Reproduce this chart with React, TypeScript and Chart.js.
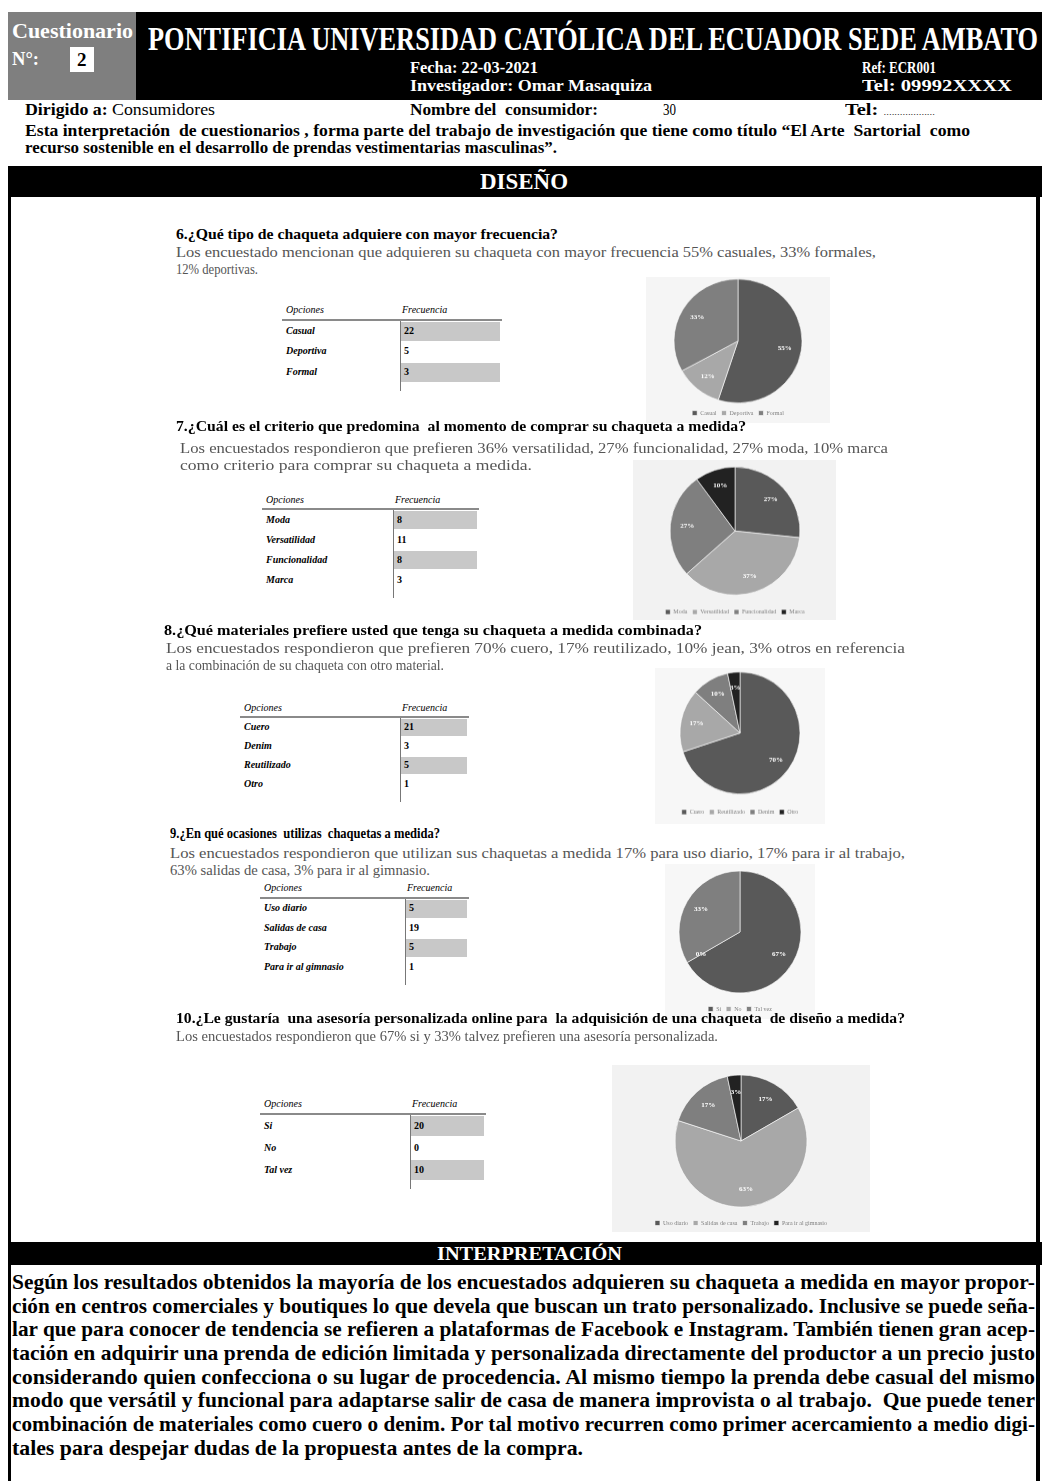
import React, { useEffect, useLayoutEffect, useRef } from 'react';
import { Chart, registerables } from 'chart.js';
Chart.register(...registerables);

// ---------- DATA ----------
const pie6Labels = ['Casual', 'Deportiva', 'Formal'];
const pie6Values = [55, 12, 33];
const pie7Labels = ['Moda', 'Versatilidad', 'Funcionalidad', 'Marca'];
const pie7Values = [8, 11, 8, 3];
const pie8Labels = ['Cuero', 'Reutilizado', 'Denim', 'Otro'];
const pie8Values = [21, 5, 3, 1];
const pie9Labels = ['Si', 'No', 'Tal vez'];
const pie9Values = [20, 0, 10];
const pie10Labels = ['Uso diario', 'Salidas de casa', 'Trabajo', 'Para ir al gimnasio'];
const pie10Values = [5, 19, 5, 1];

const table6Options = ['Casual', 'Deportiva', 'Formal'];
const table6Freq = ['22', '5', '3'];
const table7Options = ['Moda', 'Versatilidad', 'Funcionalidad', 'Marca'];
const table7Freq = ['8', '11', '8', '3'];
const table8Options = ['Cuero', 'Denim', 'Reutilizado', 'Otro'];
const table8Freq = ['21', '3', '5', '1'];
const table9Options = ['Uso diario', 'Salidas de casa', 'Trabajo', 'Para ir al gimnasio'];
const table9Freq = ['5', '19', '5', '1'];
const table10Options = ['Si', 'No', 'Tal vez'];
const table10Freq = ['20', '0', '10'];

const DARK = '#595959';
const LIGHT = '#a8a8a8';
const MID = '#7f7f7f';
const BLACK = '#222222';
const pie6Colors = [DARK, LIGHT, MID];
const pie7Colors = [DARK, LIGHT, MID, BLACK];
const pie8Colors = [DARK, LIGHT, MID, BLACK];
const pie9Colors = [DARK, LIGHT, MID];
const pie10Colors = [DARK, LIGHT, MID, BLACK];

const interpretationLines = [
  'Según los resultados obtenidos la mayoría de los encuestados adquieren su chaqueta a medida en mayor propor-',
  'ción en centros comerciales y boutiques lo que devela que buscan un trato personalizado. Inclusive se puede seña-',
  'lar que para conocer de tendencia se refieren a plataformas de Facebook e Instagram. También tienen gran acep-',
  'tación en adquirir una prenda de edición limitada y personalizada directamente del productor a un precio justo',
  'considerando quien confecciona o su lugar de procedencia. Al mismo tiempo la prenda debe casual del mismo',
  'modo que versátil y funcional para adaptarse salir de casa de manera improvista o al trabajo.  Que puede tener',
  'combinación de materiales como cuero o denim. Por tal motivo recurren como primer acercamiento a medio digi-',
  'tales para despejar dudas de la propuesta antes de la compra.',
];

const SERIF = '"Liberation Serif", "Times New Roman", serif';

// ---------- helpers ----------
type TP = {
  x: number; y: number; w?: number; size: number; bold?: boolean; italic?: boolean;
  color?: string; children: React.ReactNode;
};
function T({ x, y, w, size, bold, italic, color = '#000', children }: TP) {
  const ref = useRef<HTMLDivElement>(null);
  useLayoutEffect(() => {
    const el = ref.current;
    if (!el || !w) return;
    el.style.transform = 'none';
    const nat = el.getBoundingClientRect().width;
    if (nat > 0) el.style.transform = `scaleX(${w / nat})`;
  });
  return (
    <div
      ref={ref}
      style={{
        position: 'absolute', left: x, top: y - size * 0.55, fontFamily: SERIF, fontSize: size,
        lineHeight: 1, fontWeight: bold ? 700 : 400, fontStyle: italic ? 'italic' : 'normal',
        color, whiteSpace: 'pre', transformOrigin: '0 0',
      }}
    >
      {children}
    </div>
  );
}

function R({ x, y, w, h, bg }: { x: number; y: number; w: number; h: number; bg: string }) {
  return <div style={{ position: 'absolute', left: x, top: y, width: w, height: h, background: bg }} />;
}

const pctLabels = {
  id: 'pctLabels',
  afterDatasetsDraw(chart: any) {
    const ctx = chart.ctx;
    const meta = chart.getDatasetMeta(0);
    const data = chart.data.datasets[0].data as number[];
    const total = data.reduce((a, b) => a + b, 0);
    ctx.save();
    ctx.fillStyle = '#ffffff';
    ctx.font = `bold 7px ${SERIF}`;
    ctx.textAlign = 'center';
    ctx.textBaseline = 'middle';
    meta.data.forEach((arc: any, i: number) => {
      const p = arc.getProps(['x', 'y', 'startAngle', 'endAngle', 'outerRadius'], true);
      const mid = (p.startAngle + p.endAngle) / 2;
      const r = p.outerRadius * 0.74;
      ctx.fillText(Math.round((data[i] / total) * 100) + '%', p.x + Math.cos(mid) * r, p.y + Math.sin(mid) * r);
    });
    ctx.restore();
  },
};

type PieP = {
  W: number; cx: number; cy: number; rx: number; ry: number; legendY: number;
  labels: string[]; values: number[]; colors: string[];
};
function Pie({ W, cx, cy, rx, ry, legendY, labels, values, colors }: PieP) {
  const ref = useRef<HTMLCanvasElement>(null);
  const sy = ry / rx;
  const top = cy - ry - 20;
  const pcy = (cy - top) / sy;
  const LP = 5;
  const LF = 6;
  const Lc = (legendY - top) / sy;
  const chartBottom = Lc - (LP + LF / 2);
  const padTop = Math.max(0, 2 * pcy - chartBottom);
  const LH = LF + LP + 10;
  const ch = Math.round(chartBottom + LH + 2);
  const padBottom = ch - chartBottom - LH;
  useEffect(() => {
    const chart = new Chart(ref.current!, {
      type: 'pie',
      data: {
        labels,
        datasets: [{ data: values, backgroundColor: colors, borderColor: '#ffffff', borderWidth: 0.6, radius: rx }],
      },
      options: {
        responsive: false,
        animation: false,
        layout: { padding: { left: 0, right: 0, top: padTop, bottom: padBottom } },
        plugins: {
          legend: {
            position: 'bottom',
            labels: { boxWidth: 5, boxHeight: 5, padding: LP, color: '#808080', font: { size: LF, family: SERIF } },
          },
          tooltip: { enabled: false },
        },
      },
      plugins: [pctLabels],
    });
    return () => chart.destroy();
  }, []);
  return (
    <canvas
      ref={ref}
      width={W}
      height={ch}
      style={{
        position: 'absolute', left: cx - W / 2, top, width: W, height: ch,
        transform: `scaleY(${sy})`, transformOrigin: '0 0',
      }}
    />
  );
}

type TabP = {
  left: number; colX: number; right: number; headerY: number; lineY: number; rowH: number;
  options: string[]; freq: string[];
};
function Table({ left, colX, right, headerY, lineY, rowH, options, freq }: TabP) {
  const items: React.ReactNode[] = [];
  options.forEach((o, i) => {
    const cy = lineY + 2 + rowH * i + rowH / 2;
    if (i % 2 === 0) items.push(<R key={'b' + i} x={colX + 1} y={lineY + 2 + rowH * i + 1} w={right - colX - 1} h={rowH - 2} bg="#c8c8c8" />);
    items.push(<T key={'o' + i} x={left + 4} y={cy} size={10} bold italic>{o}</T>);
    items.push(<T key={'f' + i} x={colX + 4} y={cy} size={10} bold>{freq[i]}</T>);
  });
  return (
    <>
      <T x={left + 4} y={headerY} size={10} italic>Opciones</T>
      <T x={colX + 2} y={headerY} size={10} italic>Frecuencia</T>
      <R x={left} y={lineY} w={right - left + 2} h={2} bg="#8a8a8a" />
      <R x={colX} y={lineY + 2} w={1} h={rowH * options.length + 8} bg="#777777" />
      {items}
    </>
  );
}

const GRAY = '#555555';

export default function App() {
  return (
    <div style={{ position: 'absolute', left: 0, top: 0, width: 1042, height: 1481, background: '#fff', overflow: 'hidden' }}>
      {/* header */}
      <R x={8} y={12} w={1034} h={88} bg="#000" />
      <R x={8} y={12} w={128} h={88} bg="#7f7f7f" />
      <T x={12} y={33} w={121} size={21} bold color="#fff">Cuestionario</T>
      <T x={12} y={60} w={27} size={18} bold color="#fff">N°:</T>
      <R x={70} y={47} w={24} h={25} bg="#fff" />
      <T x={77} y={60} size={19} bold>2</T>
      <T x={148} y={41} w={890} size={33} bold color="#fff">PONTIFICIA UNIVERSIDAD CATÓLICA DEL ECUADOR SEDE AMBATO</T>
      <T x={410} y={69} w={128} size={16} bold color="#fff">Fecha: 22-03-2021</T>
      <T x={410} y={87} w={242} size={16} bold color="#fff">Investigador: Omar Masaquiza</T>
      <T x={862} y={69} w={74} size={16} bold color="#fff">Ref: ECR001</T>
      <T x={862} y={87} w={150} size={16} bold color="#fff">Tel: 09992XXXX</T>

      <T x={25} y={110} w={190} size={17}><b>Dirigido a:</b> Consumidores</T>
      <T x={410} y={110} w={188} size={17} bold>Nombre del  consumidor:</T>
      <T x={663} y={110} w={13} size={17}>30</T>
      <T x={845} y={110} w={90} size={17}><b>Tel: </b><span style={{ fontSize: 9 }}>...................</span></T>
      <T x={25} y={131} w={945} size={17} bold>Esta interpretación  de cuestionarios , forma parte del trabajo de investigación que tiene como título “El Arte  Sartorial  como</T>
      <T x={25} y={148} w={532} size={17} bold>recurso sostenible en el desarrollo de prendas vestimentarias masculinas”.</T>

      {/* DISEÑO bar */}
      <R x={8} y={166} w={1034} h={31} bg="#000" />
      <T x={480} y={182} w={88} size={24} bold color="#fff">DISEÑO</T>
      <R x={8} y={197} w={3} h={1284} bg="#000" />
      <R x={1036} y={197} w={4} h={1284} bg="#000" />

      {/* chart panels */}
      <R x={646} y={277} w={184} h={146} bg="#f5f5f5" />
      <R x={633} y={460} w={203} h={160} bg="#f2f2f2" />
      <R x={655} y={668} w={170} h={156} bg="#f7f7f7" />
      <R x={665} y={864} w={150} h={155} bg="#f7f7f7" />
      <R x={612} y={1065} w={258} h={167} bg="#f2f2f2" />

      {/* Q6 */}
      <T x={176} y={236} w={382} size={14} bold>6.¿Qué tipo de chaqueta adquiere con mayor frecuencia?</T>
      <T x={176} y={254} w={700} size={14} color={GRAY}>Los encuestado mencionan que adquieren su chaqueta con mayor frecuencia 55% casuales, 33% formales,</T>
      <T x={176} y={271} w={82} size={14} color={GRAY}>12% deportivas.</T>
      <Table left={282} colX={400} right={500} headerY={310} lineY={319} rowH={20.5} options={table6Options} freq={table6Freq} />
      <Pie W={180} cx={738} cy={341} rx={64} ry={62} legendY={413} labels={pie6Labels} values={pie6Values} colors={pie6Colors} />

      {/* Q7 */}
      <T x={176} y={428} w={570} size={14} bold>7.¿Cuál es el criterio que predomina  al momento de comprar su chaqueta a medida?</T>
      <T x={180} y={450} w={708} size={14} color={GRAY}>Los encuestados respondieron que prefieren 36% versatilidad, 27% funcionalidad, 27% moda, 10% marca</T>
      <T x={180} y={467} w={352} size={14} color={GRAY}>como criterio para comprar su chaqueta a medida.</T>
      <Table left={262} colX={393} right={477} headerY={500} lineY={508} rowH={20} options={table7Options} freq={table7Freq} />
      <Pie W={200} cx={735} cy={531} rx={65} ry={64} legendY={612} labels={pie7Labels} values={pie7Values} colors={pie7Colors} />

      {/* Q8 */}
      <T x={164} y={632} w={538} size={14} bold>8.¿Qué materiales prefiere usted que tenga su chaqueta a medida combinada?</T>
      <T x={166} y={650} w={739} size={14} color={GRAY}>Los encuestados respondieron que prefieren 70% cuero, 17% reutilizado, 10% jean, 3% otros en referencia</T>
      <T x={166} y={667} w={278} size={14} color={GRAY}>a la combinación de su chaqueta con otro material.</T>
      <Table left={240} colX={400} right={467} headerY={708} lineY={716} rowH={19} options={table8Options} freq={table8Freq} />
      <Pie W={170} cx={740} cy={733} rx={60} ry={61} legendY={812} labels={pie8Labels} values={pie8Values} colors={pie8Colors} />

      {/* Q9 */}
      <T x={170} y={835} w={270} size={14} bold>9.¿En qué ocasiones  utilizas  chaquetas a medida?</T>
      <T x={170} y={855} w={735} size={14} color={GRAY}>Los encuestados respondieron que utilizan sus chaquetas a medida 17% para uso diario, 17% para ir al trabajo,</T>
      <T x={170} y={872} w={260} size={14} color={GRAY}>63% salidas de casa, 3% para ir al gimnasio.</T>
      <Table left={260} colX={405} right={467} headerY={888} lineY={897} rowH={19.5} options={table9Options} freq={table9Freq} />
      <Pie W={150} cx={740} cy={932} rx={61} ry={61} legendY={1009} labels={pie9Labels} values={pie9Values} colors={pie9Colors} />

      {/* Q10 */}
      <T x={176} y={1020} w={729} size={14} bold>10.¿Le gustaría  una asesoría personalizada online para  la adquisición de una chaqueta  de diseño a medida?</T>
      <T x={176} y={1038} w={542} size={14} color={GRAY}>Los encuestados respondieron que 67% si y 33% talvez prefieren una asesoría personalizada.</T>
      <Table left={260} colX={410} right={484} headerY={1104} lineY={1113} rowH={22} options={table10Options} freq={table10Freq} />
      <Pie W={256} cx={741} cy={1141} rx={66} ry={66} legendY={1223} labels={pie10Labels} values={pie10Values} colors={pie10Colors} />

      {/* INTERPRETACIÓN */}
      <R x={8} y={1242} w={1034} h={23} bg="#000" />
      <T x={437} y={1254} w={185} size={19} bold color="#fff">INTERPRETACIÓN</T>
      {interpretationLines.map((l, i) => (
        <T key={i} x={12} y={1283 + i * 23.7} w={i === interpretationLines.length - 1 ? 571 : 1023} size={22} bold>{l}</T>
      ))}
    </div>
  );
}
